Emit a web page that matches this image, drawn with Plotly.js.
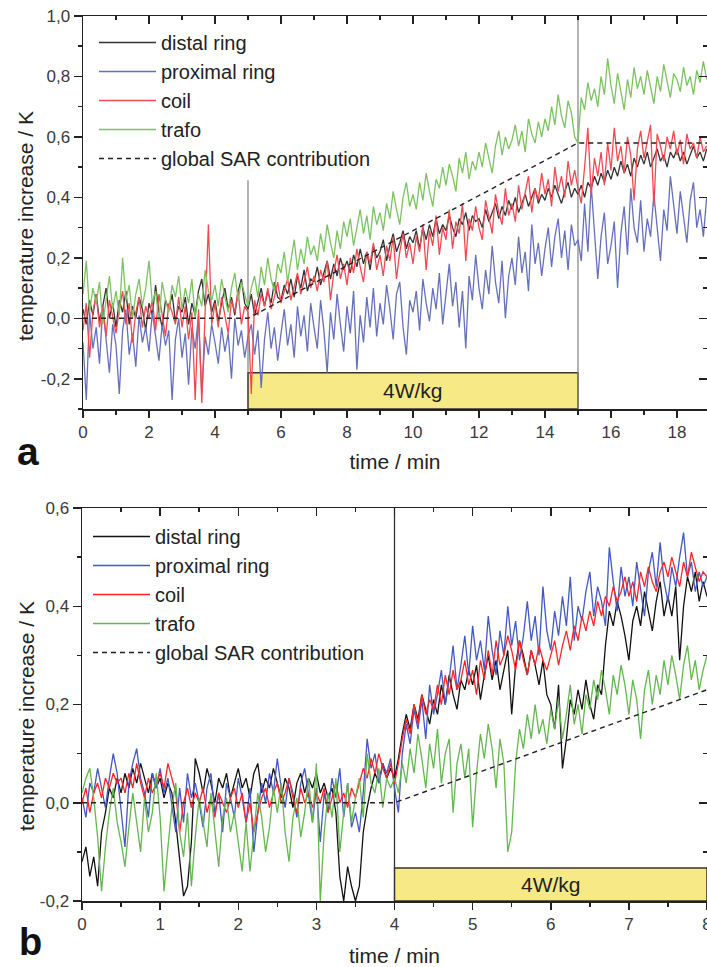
<!DOCTYPE html>
<html>
<head>
<meta charset="utf-8">
<script src="https://cdn.plot.ly/plotly-3.0.1.min.js"></script>
<style>html,body{margin:0;padding:0;background:#fff}#chart{width:707px;height:967px}</style>
</head>
<body>
<div id="chart"></div>
<script>
// ---------- Panel a : sample step 0.1 min, t = 0 ... 18.9 ----------
const stepA = 0.1;
const distalA = [
 0.03,-0.02,0.06,0.01,0.08,-0.01,0.04,0.10,0.00,0.05,
 -0.03,0.06,0.02,0.09,-0.02,0.04,0.00,0.07,0.03,-0.04,
 0.05,0.01,0.11,0.02,-0.03,0.06,0.03,0.08,-0.01,0.04,
 0.02,0.07,-0.02,0.05,0.01,0.09,0.13,0.04,0.08,0.02,
 0.06,-0.01,0.05,0.10,0.03,0.07,0.01,0.09,0.13,0.05,
 0.03,0.08,0.01,0.06,0.10,0.04,0.09,0.05,0.12,0.07,
 0.06,0.11,0.08,0.13,0.07,0.14,0.10,0.16,0.09,0.13,
 0.12,0.17,0.11,0.15,0.19,0.13,0.18,0.14,0.20,0.16,
 0.19,0.15,0.21,0.17,0.23,0.18,0.22,0.16,0.24,0.20,
 0.22,0.26,0.19,0.24,0.28,0.22,0.25,0.29,0.23,0.27,
 0.25,0.29,0.23,0.30,0.26,0.31,0.27,0.33,0.28,0.31,
 0.29,0.34,0.30,0.27,0.33,0.31,0.35,0.29,0.34,0.32,
 0.33,0.30,0.36,0.32,0.35,0.38,0.33,0.37,0.34,0.39,
 0.36,0.40,0.35,0.38,0.41,0.37,0.40,0.43,0.38,0.41,
 0.39,0.43,0.40,0.44,0.41,0.38,0.42,0.45,0.40,0.43,
 0.41,0.44,0.40,0.45,0.43,0.47,0.44,0.48,0.45,0.49,
 0.46,0.50,0.47,0.52,0.48,0.51,0.47,0.53,0.50,0.54,
 0.51,0.55,0.50,0.53,0.56,0.52,0.54,0.50,0.55,0.53,
 0.56,0.52,0.55,0.51,0.54,0.57,0.53,0.55,0.52,0.56];
const proximalA = [
 -0.08,-0.27,0.02,-0.10,-0.03,-0.15,0.04,-0.06,-0.18,-0.02,
 -0.09,-0.25,-0.04,0.03,-0.12,-0.05,-0.16,0.01,-0.08,-0.03,
 -0.11,0.02,-0.06,-0.14,-0.02,-0.09,-0.04,-0.27,-0.07,0.00,
 -0.13,-0.05,-0.22,-0.03,-0.10,0.01,-0.25,-0.06,-0.12,-0.02,
 -0.08,-0.15,-0.03,-0.11,-0.05,-0.20,0.00,-0.09,-0.04,-0.13,
 -0.06,-0.02,-0.12,-0.04,-0.23,-0.07,0.02,-0.10,-0.03,-0.14,
 -0.05,0.03,-0.09,-0.02,-0.13,0.04,-0.06,0.01,-0.11,0.05,
 -0.03,-0.10,0.06,-0.04,-0.18,0.02,-0.07,0.08,-0.02,-0.11,
 0.04,-0.05,0.09,-0.17,0.01,-0.08,0.07,-0.03,0.10,-0.06,
 0.05,-0.02,0.11,0.03,-0.07,0.08,0.12,-0.03,-0.12,0.06,
 0.02,0.09,-0.04,0.13,0.05,-0.01,0.10,0.03,0.15,-0.02,
 0.08,0.18,0.04,0.12,-0.03,0.09,-0.10,0.14,0.06,0.21,
 0.10,0.03,0.16,0.08,0.24,0.12,0.05,0.19,0.00,0.14,
 0.20,0.11,0.27,0.15,0.22,0.09,0.31,0.18,0.25,0.14,
 0.23,0.30,0.17,0.27,0.33,0.20,0.29,0.16,0.31,0.24,
 0.26,0.19,0.38,0.22,0.44,0.30,0.13,0.27,0.35,0.18,
 0.24,0.32,0.10,0.28,0.37,0.21,0.43,0.30,0.25,0.39,
 0.22,0.33,0.27,0.41,0.31,0.19,0.36,0.29,0.47,0.38,
 0.28,0.42,0.33,0.25,0.39,0.45,0.30,0.36,0.27,0.40];
const coilA = [
 -0.04,0.05,-0.13,0.02,0.08,-0.03,0.04,-0.06,0.06,0.01,
 -0.05,0.03,0.09,-0.02,0.05,-0.08,0.02,0.07,-0.03,0.04,
 0.00,0.06,-0.04,0.08,0.01,-0.06,0.05,0.02,-0.02,0.07,
 -0.03,0.04,-0.07,0.02,-0.27,0.03,-0.28,0.05,0.31,-0.02,
 0.05,-0.03,0.07,0.01,-0.05,0.06,0.02,0.09,-0.02,0.04,
 0.02,-0.25,0.06,0.01,0.08,0.04,0.10,0.03,0.07,0.12,
 0.05,0.09,0.13,0.06,0.11,0.15,0.08,0.12,0.17,0.10,
 0.14,0.09,0.16,0.12,0.19,0.06,0.15,0.21,0.13,0.18,
 0.11,0.20,0.15,0.23,0.17,0.12,0.22,0.18,0.25,0.16,
 0.21,0.14,0.24,0.19,0.27,0.13,0.22,0.28,0.20,0.25,
 0.18,0.27,0.22,0.31,0.16,0.29,0.24,0.34,0.21,0.30,
 0.26,0.36,0.23,0.32,0.28,0.38,0.19,0.33,0.29,0.37,
 0.30,0.26,0.39,0.33,0.28,0.41,0.35,0.31,0.43,0.34,
 0.38,0.32,0.44,0.36,0.41,0.47,0.35,0.43,0.39,0.48,
 0.41,0.46,0.37,0.50,0.42,0.47,0.40,0.52,0.44,0.49,
 0.43,0.38,0.50,0.63,0.41,0.53,0.47,0.55,0.44,0.58,
 0.49,0.63,0.52,0.57,0.48,0.60,0.54,0.39,0.56,0.62,
 0.53,0.59,0.64,0.37,0.61,0.57,0.52,0.60,0.56,0.62,
 0.54,0.59,0.51,0.61,0.56,0.58,0.53,0.60,0.55,0.57];
const trafoA = [
 0.08,0.19,0.02,0.10,0.05,0.12,-0.02,0.07,0.14,0.03,
 0.09,0.01,0.20,0.06,0.11,0.00,0.08,0.13,0.04,0.10,
 0.19,0.05,0.09,-0.01,0.12,0.06,0.02,0.11,0.07,0.14,
 0.03,0.10,0.05,0.13,0.00,0.08,0.04,0.16,0.09,0.06,
 0.11,0.04,0.13,0.07,0.02,0.10,0.15,0.06,0.12,0.08,
 0.04,0.10,0.14,0.07,0.17,0.11,0.20,0.13,0.09,0.18,
 0.15,0.22,0.12,0.19,0.26,0.16,0.23,0.18,0.27,0.21,
 0.24,0.19,0.28,0.22,0.31,0.25,0.20,0.29,0.23,0.32,
 0.27,0.33,0.24,0.30,0.36,0.28,0.34,0.26,0.37,0.31,
 0.35,0.29,0.38,0.33,0.42,0.36,0.31,0.40,0.45,0.37,
 0.41,0.36,0.45,0.39,0.48,0.42,0.37,0.46,0.43,0.50,
 0.44,0.51,0.47,0.42,0.53,0.48,0.55,0.46,0.52,0.49,
 0.55,0.50,0.58,0.53,0.48,0.57,0.62,0.54,0.60,0.56,
 0.59,0.64,0.57,0.62,0.55,0.66,0.61,0.58,0.65,0.60,
 0.66,0.62,0.70,0.64,0.74,0.67,0.63,0.72,0.68,0.60,
 0.58,0.73,0.69,0.78,0.72,0.76,0.70,0.80,0.74,0.86,
 0.77,0.71,0.81,0.75,0.69,0.79,0.73,0.83,0.76,0.80,
 0.74,0.82,0.77,0.71,0.80,0.75,0.84,0.78,0.73,0.81,
 0.79,0.75,0.83,0.77,0.80,0.74,0.82,0.78,0.85,0.79];
const sarA_t = [0, 5, 15, 18.91];
const sarA_v = [0, 0, 0.58, 0.58];
const exposureA = [5, 15];          // 4 W/kg period, min
const markersA = [5, 15];           // vertical reference lines, min

// ---------- Panel b : sample step 0.05 min, t = 0 ... 8 ----------
const stepB = 0.05;
const distalB = [
 -0.12,-0.09,-0.15,-0.11,-0.17,-0.06,-0.02,0.03,0.01,0.05,
 0.02,0.06,0.03,0.07,0.04,0.08,0.05,0.02,0.06,0.03,
 0.05,0.01,0.04,0.02,-0.04,-0.12,-0.19,-0.17,-0.08,0.09,
 0.06,0.02,0.07,0.04,0.00,0.05,0.03,0.06,0.01,0.04,
 0.07,0.03,0.05,0.01,0.06,0.08,0.02,0.05,0.03,0.07,
 0.04,0.01,0.05,0.03,-0.01,0.04,0.06,0.02,0.05,0.03,
 0.06,0.02,0.04,0.01,0.03,-0.02,-0.15,-0.20,-0.13,-0.17,
 -0.20,-0.17,-0.06,-0.01,0.03,0.06,0.04,0.08,0.05,0.07,
 0.05,0.09,0.14,0.18,0.15,0.20,0.17,0.22,0.19,0.16,
 0.21,0.18,0.24,0.20,0.26,0.22,0.19,0.25,0.23,0.27,
 0.24,0.28,0.21,0.26,0.30,0.25,0.29,0.23,0.27,0.31,
 0.18,0.28,0.33,0.30,0.26,0.31,0.28,0.24,0.29,0.22,
 0.20,0.15,0.24,0.07,0.13,0.21,0.18,0.23,0.19,0.25,
 0.20,0.17,0.24,0.22,0.32,0.39,0.36,0.41,0.38,0.34,
 0.29,0.37,0.40,0.36,0.43,0.39,0.35,0.41,0.45,0.38,
 0.42,0.38,0.44,0.29,0.40,0.46,0.43,0.47,0.41,0.45,
 0.42];
const proximalB = [
 0.01,-0.03,0.04,0.02,0.07,0.03,-0.01,0.05,0.10,0.06,
 -0.02,-0.09,0.04,0.08,0.11,0.05,0.02,-0.03,0.06,0.03,
 0.07,0.02,0.05,-0.01,-0.06,0.03,-0.04,0.06,0.01,0.04,
 0.00,-0.05,0.03,0.06,-0.02,0.02,-0.06,0.04,0.01,-0.03,
 0.05,0.01,-0.04,0.03,-0.10,-0.02,0.04,0.00,0.06,0.02,
 0.09,0.03,-0.01,0.05,0.02,-0.03,0.04,0.07,0.01,-0.04,
 0.03,-0.08,0.02,-0.02,0.05,0.01,0.07,-0.03,0.04,-0.05,
 -0.02,-0.06,0.02,0.13,0.07,0.10,0.04,0.08,0.06,0.09,
 0.03,-0.02,0.10,0.16,0.12,0.19,0.15,0.21,0.13,0.24,
 0.18,0.22,0.27,0.20,0.25,0.32,0.23,0.28,0.34,0.26,
 0.36,0.29,0.33,0.27,0.38,0.31,0.26,0.35,0.30,0.40,
 0.32,0.37,0.29,0.34,0.41,0.33,0.38,0.30,0.44,0.35,
 0.31,0.39,0.34,0.42,0.36,0.46,0.33,0.40,0.37,0.43,
 0.47,0.38,0.44,0.41,0.36,0.52,0.45,0.39,0.48,0.42,
 0.46,0.40,0.49,0.43,0.38,0.47,0.51,0.44,0.53,0.45,
 0.41,0.48,0.44,0.50,0.55,0.46,0.49,0.43,0.47,0.44,
 0.46];
const coilB = [
 0.00,0.03,-0.02,0.02,0.04,0.01,0.05,0.03,0.06,0.04,
 0.05,0.02,0.06,0.03,0.08,0.04,0.01,0.05,0.02,0.04,
 0.06,0.03,0.08,0.05,0.02,-0.06,0.00,0.03,-0.01,0.02,
 0.00,0.03,-0.02,0.01,-0.03,0.02,0.00,-0.02,0.01,0.03,
 -0.01,0.02,-0.04,0.00,-0.06,-0.02,0.01,0.03,-0.01,0.02,
 0.04,0.00,0.02,0.05,0.01,-0.02,0.03,0.00,0.02,-0.01,
 0.02,0.00,0.03,-0.02,0.01,0.04,0.00,0.02,-0.01,0.03,
 0.01,0.04,0.07,0.05,0.09,0.06,0.10,0.07,0.05,0.08,
 0.04,0.08,0.13,0.17,0.14,0.20,0.16,0.22,0.18,0.21,
 0.19,0.24,0.20,0.26,0.22,0.27,0.23,0.25,0.29,0.24,
 0.27,0.22,0.29,0.25,0.31,0.26,0.33,0.28,0.30,0.34,
 0.31,0.27,0.33,0.29,0.26,0.31,0.28,0.32,0.29,0.27,
 0.30,0.33,0.28,0.32,0.35,0.31,0.36,0.33,0.38,0.35,
 0.39,0.36,0.41,0.38,0.42,0.40,0.44,0.41,0.43,0.46,
 0.42,0.45,0.41,0.47,0.44,0.48,0.45,0.43,0.47,0.49,
 0.46,0.50,0.47,0.44,0.49,0.46,0.51,0.48,0.45,0.47,
 0.46];
const trafoB = [
 0.02,0.05,0.07,0.01,-0.07,-0.18,-0.09,-0.02,0.03,-0.04,
 -0.08,-0.13,-0.05,0.02,-0.04,-0.10,0.01,-0.06,-0.02,0.06,
 -0.03,-0.18,-0.09,-0.01,0.04,-0.06,-0.11,-0.02,-0.17,-0.07,
 0.01,-0.04,-0.09,0.02,-0.05,-0.13,-0.03,0.01,-0.06,-0.02,
 -0.08,-0.14,-0.04,-0.14,-0.06,0.02,-0.03,-0.10,-0.05,0.03,
 -0.02,0.04,-0.06,-0.12,-0.03,0.01,-0.07,-0.02,0.05,-0.04,
 0.08,-0.20,-0.06,0.02,-0.03,0.05,-0.10,-0.02,0.04,-0.04,
 0.01,0.05,-0.03,0.10,0.04,0.02,0.07,-0.01,0.05,0.03,
 0.05,0.02,0.08,0.04,0.11,0.06,0.14,0.09,0.03,0.12,
 0.07,0.15,0.04,0.10,0.13,-0.02,0.08,0.12,0.05,0.11,
 -0.05,0.06,0.14,0.09,0.16,0.11,0.03,0.13,0.08,-0.10,
 -0.06,0.08,0.15,0.11,0.18,0.13,0.20,0.14,0.17,0.12,
 0.19,0.15,0.21,0.13,0.18,0.24,0.16,0.20,0.14,0.22,
 0.19,0.25,0.21,0.27,0.23,0.18,0.26,0.22,0.28,0.24,
 0.18,0.25,0.21,0.13,0.23,0.27,0.20,0.26,0.22,0.29,
 0.24,0.30,0.26,0.21,0.28,0.32,0.25,0.29,0.23,0.27,
 0.30];
const sarB_t = [0, 4, 8];
const sarB_v = [0, 0, 0.23];
const exposureB = [4, 8];
const markersB = [4];

// tick labels (hyphen minus, decimal comma as in the original)
const yTickValsA = [-0.2, 0, 0.2, 0.4, 0.6, 0.8, 1.0];
const yTickTextA = ['-0,2', '0,0', '0,2', '0,4', '0,6', '0,8', '1,0'];
const yTickValsB = [-0.2, 0, 0.2, 0.4, 0.6];
const yTickTextB = ['-0,2', '0,0', '0,2', '0,4', '0,6'];

const seriesNames = ['distal ring', 'proximal ring', 'coil', 'trafo', 'global SAR contribution'];
const colorsA = ['#333333', '#6570bd', '#f04a50', '#7cc35f'];
const colorsB = ['#111111', '#4258c2', '#ff2424', '#62b84c'];

// ---------- build ----------
const times = (n, step) => Array.from({length: n}, (_, i) => +(i * step).toFixed(3));
const tA = times(distalA.length, stepA);
const tB = times(distalB.length, stepB);

const FONT = 'Liberation Sans, Arial, Helvetica, sans-serif';
function seriesTraces(t, arrs, colors, xa, ya, legend) {
  return arrs.map((v, i) => ({
    type: 'scatter', mode: 'lines', x: t, y: v, name: seriesNames[i],
    xaxis: xa, yaxis: ya, legend: legend,
    line: {color: colors[i], width: 1.3}, hoverinfo: 'skip'
  }));
}
const traces = [
  ...seriesTraces(tA, [distalA, proximalA, coilA, trafoA], colorsA, 'x', 'y', 'legend'),
  {type: 'scatter', mode: 'lines', x: sarA_t, y: sarA_v, name: seriesNames[4], xaxis: 'x', yaxis: 'y',
   legend: 'legend', line: {color: '#222', width: 1.4, dash: '5px,4px'}, hoverinfo: 'skip'},
  ...seriesTraces(tB, [distalB, proximalB, coilB, trafoB], colorsB, 'x2', 'y2', 'legend2'),
  {type: 'scatter', mode: 'lines', x: sarB_t, y: sarB_v, name: seriesNames[4], xaxis: 'x2', yaxis: 'y2',
   legend: 'legend2', line: {color: '#222', width: 1.4, dash: '5px,4px'}, hoverinfo: 'skip'},
  // empty traces to activate mirrored inner-tick axes
  {type: 'scatter', x: [null], y: [null], xaxis: 'x3', yaxis: 'y3', showlegend: false, hoverinfo: 'skip'},
  {type: 'scatter', x: [null], y: [null], xaxis: 'x4', yaxis: 'y4', showlegend: false, hoverinfo: 'skip'}
];

const W = 707, H = 967;
const rangeXA = [0, 18.91], rangeYA = [-0.3, 1.0];
const rangeXB = [0, 8], rangeYB = [-0.2, 0.6];
const domXA = [83 / W, 1], domYA = [1 - 409 / H, 1 - 16 / H];
const domXB = [82 / W, 1], domYB = [1 - 901 / H, 1 - 508 / H];

const tickFont = {family: FONT, size: 17, color: '#3a3a3a'};
const titleFont = {family: FONT, size: 21, color: '#222'};
const baseX = (dom, rng, anchor, majorD, minorD, standoff) => ({
  domain: dom, range: rng, anchor: anchor, showgrid: false, zeroline: false,
  showline: true, linecolor: '#222', linewidth: 1.5, mirror: true,
  tickmode: 'linear', tick0: 0, dtick: majorD, ticklabeloverflow: 'allow',
  ticks: 'outside', ticklen: 7, tickwidth: 1.5, tickcolor: '#222',
  minor: {tick0: 0, dtick: minorD, ticks: 'outside', ticklen: 4, tickwidth: 1.5, tickcolor: '#222'},
  tickfont: tickFont, title: {text: 'time / min', font: titleFont, standoff: standoff}
});
const baseY = (dom, rng, anchor, vals, txt) => ({
  domain: dom, range: rng, anchor: anchor, showgrid: false, zeroline: false,
  showline: true, linecolor: '#222', linewidth: 1.5, mirror: true,
  ticks: 'outside', ticklen: 8, tickwidth: 1.5, tickcolor: '#222',
  tickmode: 'array', tickvals: vals, ticktext: txt,
  minor: {tickmode: 'linear', tick0: 0, dtick: 0.1, ticks: 'outside', ticklen: 4, tickwidth: 1.5, tickcolor: '#222'},
  tickfont: tickFont
});
const mirrorX = (over, anchor, rng, majorD, minorD) => ({
  overlaying: over, anchor: anchor, side: 'top', range: rng, showgrid: false, zeroline: false,
  showline: false, showticklabels: false, ticks: 'inside', ticklen: 8, tickwidth: 1.5, tickcolor: '#222',
  tickmode: 'linear', tick0: 0, dtick: majorD,
  minor: {tick0: 0, dtick: minorD, ticks: 'inside', ticklen: 4, tickwidth: 1.5, tickcolor: '#222'}
});
const mirrorY = (over, anchor, rng) => ({
  overlaying: over, anchor: anchor, side: 'right', range: rng, showgrid: false, zeroline: false,
  showline: false, showticklabels: false, ticks: 'inside', ticklen: 8, tickwidth: 1.5, tickcolor: '#222',
  tickmode: 'linear', tick0: 0, dtick: 0.2,
  minor: {tick0: 0, dtick: 0.1, ticks: 'inside', ticklen: 4, tickwidth: 1.5, tickcolor: '#222'}
});

const yellow = '#f7ea86';
const shapes = [
  {type: 'rect', xref: 'x', yref: 'y', x0: exposureA[0], x1: exposureA[1], y0: -0.3, y1: -0.18,
   fillcolor: yellow, line: {color: '#333', width: 1.5}, layer: 'below'},
  {type: 'rect', xref: 'x2', yref: 'y2', x0: exposureB[0], x1: exposureB[1], y0: -0.2, y1: -0.133,
   fillcolor: yellow, line: {color: '#333', width: 1.5}, layer: 'below'},
  {type: 'line', xref: 'x', yref: 'y', x0: markersA[0], x1: markersA[0], y0: -0.18, y1: 0.457,
   line: {color: '#8a8a8a', width: 1.3}, layer: 'below'},
  {type: 'line', xref: 'x', yref: 'y', x0: markersA[1], x1: markersA[1], y0: -0.3, y1: 1.0,
   line: {color: '#8a8a8a', width: 1.3}, layer: 'below'},
  {type: 'line', xref: 'x2', yref: 'y2', x0: markersB[0], x1: markersB[0], y0: -0.133, y1: 0.6,
   line: {color: '#333', width: 1.3}, layer: 'below'}
];
const yTitle = 'temperature increase / K';
const centered = {xanchor: 'center', yanchor: 'middle', showarrow: false};
const annotations = [
  {...centered, xref: 'x', yref: 'y', x: (exposureA[0] + exposureA[1]) / 2, y: -0.24, text: '4W/kg',
   font: {family: FONT, size: 21, color: '#222'}},
  {...centered, xref: 'x2', yref: 'y2', x: (exposureB[0] + exposureB[1]) / 2, y: -0.1665, text: '4W/kg',
   font: {family: FONT, size: 21, color: '#222'}},
  {...centered, xref: 'paper', yref: 'paper', x: 26 / W, y: 1 - 226 / H, text: yTitle, textangle: -90,
   font: titleFont},
  {...centered, xref: 'paper', yref: 'paper', x: 26 / W, y: 1 - 716 / H, text: yTitle, textangle: -90,
   font: titleFont},
  {...centered, xref: 'paper', yref: 'paper', x: 28 / W, y: 1 - 452 / H, text: '<b>a</b>',
   font: {family: FONT, size: 39, color: '#111'}},
  {...centered, xref: 'paper', yref: 'paper', x: 30 / W, y: 1 - 942 / H, text: '<b>b</b>',
   font: {family: FONT, size: 38, color: '#111'}}
];

const legendStyle = (x, y) => ({
  x: x, y: y, xanchor: 'left', yanchor: 'top', bgcolor: 'rgba(0,0,0,0)', borderwidth: 0,
  font: {family: FONT, size: 20, color: '#222'}, tracegroupgap: 0, itemwidth: 57
});

const layout = {
  width: W, height: H, margin: {l: 0, r: 0, t: 0, b: 0},
  paper_bgcolor: '#fff', plot_bgcolor: 'rgba(0,0,0,0)', showlegend: true,
  font: {family: FONT},
  xaxis: baseX(domXA, rangeXA, 'y', 2, 1, 13),
  yaxis: baseY(domYA, rangeYA, 'x', yTickValsA, yTickTextA),
  xaxis2: baseX(domXB, rangeXB, 'y2', 1, 0.5, 17),
  yaxis2: baseY(domYB, rangeYB, 'x2', yTickValsB, yTickTextB),
  xaxis3: mirrorX('x', 'y3', rangeXA, 2, 1),
  yaxis3: mirrorY('y', 'x3', rangeYA),
  xaxis4: mirrorX('x2', 'y4', rangeXB, 1, 0.5),
  yaxis4: mirrorY('y2', 'x4', rangeYB),
  legend: legendStyle(94 / W, 1 - 23 / H),
  legend2: legendStyle(88 / W, 1 - 517 / H),
  shapes: shapes, annotations: annotations, separators: ',.'
};

Plotly.newPlot('chart', traces, layout, {staticPlot: true, displayModeBar: false});
</script>
</body>
</html>
